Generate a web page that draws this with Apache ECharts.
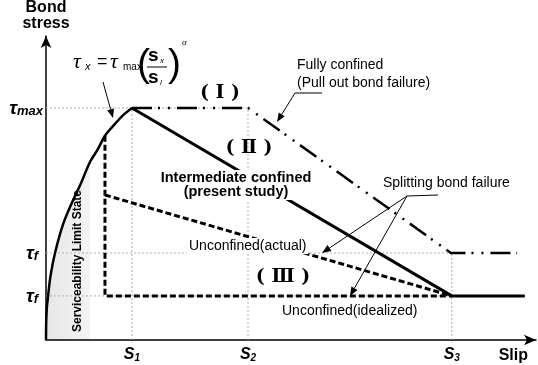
<!DOCTYPE html>
<html><head><meta charset="utf-8">
<script src="https://cdn.jsdelivr.net/npm/echarts@6/dist/echarts.min.js"></script>
<style>html,body{margin:0;padding:0;background:#fff}#c{width:538px;height:365px}</style>
</head><body><div id="c"></div>
<script>
// ---- data (normalised: slip S1 = 1, stress tau_max = 1) ----
const slipTicks = [1.0, 2.35, 4.72];
const slipSubs = ['1', '2', '3'];
const stressTicks = [1.0, 0.375, 0.19];
const stressSubs = ['max', 'f', 'f'];
const ascX = [0, 0.002, 0.01, 0.023, 0.05, 0.105, 0.2, 0.3, 0.4, 0.512, 0.6, 0.686, 0.8, 0.9, 1.0];
const ascY = [0, 0.07, 0.14, 0.185, 0.27, 0.375, 0.50, 0.59, 0.67, 0.767, 0.82, 0.88, 0.93, 0.97, 1.0];
const slsLimit = 0.512;
const fullyX = [1.0, 2.35, 4.71, 5.48];
const fullyY = [1.0, 1.0, 0.375, 0.375];
const interX = [1.0, 4.72, 5.57];
const interY = [1.0, 0.19, 0.19];
const idealX = [0.686, 0.686, 4.72];
const idealY = [0.88, 0.19, 0.19];
const actualX = [0.686, 4.72];
const actualY = [0.625, 0.19];
const xMax = 5.70, yMax = 1.31;

const zip = (a, b) => a.map((v, i) => [v, b[i]]);
const guides = [
  [[0, stressTicks[0]], [slipTicks[1], stressTicks[0]]],
  [[0, stressTicks[1]], [slipTicks[2], stressTicks[1]]],
  [[0, stressTicks[2]], [slipTicks[2], stressTicks[2]]],
  [[slipTicks[0], 0], [slipTicks[0], stressTicks[0]]],
  [[slipTicks[1], 0], [slipTicks[1], stressTicks[0]]],
  [[slipTicks[2], 0], [slipTicks[2], stressTicks[1]]]
];
const FF = '"Liberation Sans", Arial, sans-serif';
const chart = echarts.init(document.getElementById('c'));
const series = [];
guides.forEach(g => series.push({type: 'line', data: g, symbol: 'none', silent: true, z: 1,
  lineStyle: {color: '#b0b0b0', width: 1, type: [2, 2]}}));
series.push({type: 'line', symbol: 'none', z: 0, lineStyle: {width: 0}, smooth: 0.3,
  data: zip(ascX, ascY).filter(p => p[0] <= slsLimit),
  areaStyle: {color: new echarts.graphic.LinearGradient(0, 0, 1, 0, [{offset: 0, color: '#e6e6e6'}, {offset: 1, color: '#f4f4f4'}]), opacity: 1}});
series.push({type: 'line', symbol: 'none', z: 5, smooth: 0.3, data: zip(ascX, ascY), lineStyle: {color: '#000', width: 2.5}});
series.push({type: 'line', symbol: 'none', z: 5, data: zip(fullyX, fullyY), lineStyle: {color: '#000', width: 2.5, type: [20, 6, 2, 8, 2, 7], cap: 'butt'}});
series.push({type: 'line', symbol: 'none', z: 5, data: zip(interX, interY), lineStyle: {color: '#000', width: 3}});
series.push({type: 'line', symbol: 'none', z: 5, data: zip(idealX, idealY), lineStyle: {color: '#000', width: 3, type: [6, 3]}});
series.push({type: 'line', symbol: 'none', z: 5, data: zip(actualX, actualY), lineStyle: {color: '#000', width: 3, type: [6, 3]}});

function findIdx(arr, v) { for (let i = 0; i < arr.length; i++) if (Math.abs(arr[i] - v) < 1e-6) return i; return -1; }

function arrow(pts) {
  const n = pts.length, [x1, y1] = pts[n - 2], [x2, y2] = pts[n - 1];
  const a = Math.atan2(y2 - y1, x2 - x1), L = 9, W = 3.5;
  const bx = x2 - L * Math.cos(a), by = y2 - L * Math.sin(a);
  const px = -Math.sin(a) * W, py = Math.cos(a) * W;
  return [
    {type: 'polyline', shape: {points: pts.slice(0, n - 1).concat([[bx, by]])}, style: {stroke: '#000', lineWidth: 1, fill: null}, z: 10},
    {type: 'polygon', shape: {points: [[x2, y2], [bx + px, by + py], [bx - px, by - py]]}, style: {fill: '#000'}, z: 10}
  ];
}
const txt = (x, y, text, font, extra) => Object.assign({type: 'text', x: x, y: y, z: 10,
  style: Object.assign({text: text, font: font, fill: '#000', textAlign: 'left', textVerticalAlign: 'middle'}, extra || {})});
const bg = {backgroundColor: '#fff', padding: [1, 2]};

const graphics = [
  txt(236, 185, 'Intermediate confined\n(present study)', 'bold 14.5px ' + FF, Object.assign({textAlign: 'center', lineHeight: 14}, bg)),
  txt(297, 74, 'Fully confined\n(Pull out bond failure)', '14px ' + FF, {lineHeight: 18}),
  txt(383, 183, 'Splitting bond failure', '14px ' + FF),
  txt(187, 246, 'Unconfined(actual)', '14px ' + FF, bg),
  txt(282, 311, 'Unconfined(idealized)', '14px ' + FF),
  txt(220, 93, '( Ⅰ )', 'bold 19px "DejaVu Serif", serif', {textAlign: 'center'}),
  txt(249, 148, '( Ⅱ )', 'bold 19px "DejaVu Serif", serif', {textAlign: 'center'}),
  txt(283, 277, '( Ⅲ )', 'bold 19px "DejaVu Serif", serif', {textAlign: 'center'}),
  {type: 'text', x: 78, y: 261, rotation: Math.PI / 2, z: 10,
    style: {text: 'Serviceability Limit State', font: 'bold 12px ' + FF, fill: '#000', textAlign: 'center', textVerticalAlign: 'middle'}},
  // formula
  txt(73, 62, 'τ', 'italic 22px "Liberation Serif", serif'),
  txt(85, 67, 'x', 'italic 11px ' + FF),
  txt(97, 62, '=', '18px ' + FF),
  txt(110, 62, 'τ', 'italic 22px "Liberation Serif", serif'),
  txt(123, 67, 'max', '10px ' + FF),
  txt(137, 65, '(', '39px ' + FF),
  txt(148, 56, 's', 'bold 19px ' + FF),
  txt(160, 61, 'x', 'italic 8px ' + FF),
  txt(148, 78, 's', 'bold 19px ' + FF),
  txt(160, 83, 'l', 'italic 8px ' + FF),
  {type: 'line', shape: {x1: 147, y1: 67, x2: 167, y2: 67}, style: {stroke: '#000', lineWidth: 1}, z: 10},
  txt(168, 65, ')', '39px ' + FF),
  txt(182, 43, 'α', 'italic 9px "Liberation Serif", serif')
].concat(
  arrow([[103, 82], [113, 118]]),
  arrow([[322, 93], [295, 93], [277, 122]]),
  arrow([[438, 195], [407, 196], [322, 253]]),
  arrow([[407, 196], [350, 296]])
);

chart.setOption({
  animation: false,
  grid: {left: 46, right: 2, top: 36, bottom: 25},
  xAxis: {type: 'value', min: 0, max: xMax, splitLine: {show: false},
    axisLine: {lineStyle: {color: '#000', width: 1.5}, symbol: ['none', 'arrow'], symbolSize: [8, 12]},
    axisTick: {show: false},
    axisLabel: {customValues: slipTicks, margin: 5,
      formatter: v => { const i = findIdx(slipTicks, v); return i < 0 ? '' : '{s|S}{n|' + slipSubs[i] + '}'; },
      rich: {s: {fontSize: 16, fontWeight: 'bold', fontStyle: 'italic', fontFamily: FF, color: '#000', verticalAlign: 'bottom', lineHeight: 18},
             n: {fontSize: 10, fontWeight: 'bold', fontStyle: 'italic', fontFamily: FF, color: '#000', verticalAlign: 'bottom', lineHeight: 13}}},
    name: 'Slip', nameLocation: 'end', nameGap: -8,
    nameTextStyle: {fontSize: 16, fontWeight: 'bold', fontFamily: FF, color: '#000', align: 'right', verticalAlign: 'top', padding: [8, 0, 0, 0]}},
  yAxis: {type: 'value', min: 0, max: yMax, splitLine: {show: false},
    axisLine: {show: true, lineStyle: {color: '#000', width: 1.5}, symbol: ['none', 'arrow'], symbolSize: [8, 12]},
    axisTick: {show: false},
    axisLabel: {customValues: stressTicks, margin: 3,
      formatter: v => { const i = findIdx(stressTicks, v); return i < 0 ? '' : (i === 0 ? '{t|τ}{m|' : '{t|τ}{f|') + stressSubs[i] + '}'; },
      rich: {t: {fontSize: 19, fontWeight: 'bold', fontStyle: 'italic', fontFamily: FF, color: '#000', verticalAlign: 'bottom', lineHeight: 20},
             m: {fontSize: 13, fontWeight: 'bold', fontStyle: 'italic', fontFamily: FF, color: '#000', verticalAlign: 'bottom', lineHeight: 15},
             f: {fontSize: 13, fontWeight: 'bold', fontStyle: 'italic', fontFamily: FF, color: '#000', verticalAlign: 'bottom', lineHeight: 15, padding: [0, 5, 0, 0]}}},
    name: 'Bond\nstress', nameLocation: 'end', nameGap: 4,
    nameTextStyle: {fontSize: 16, fontWeight: 'bold', fontFamily: FF, color: '#000', align: 'center', lineHeight: 16}},
  series: series,
  graphic: graphics
});
</script></body></html>
